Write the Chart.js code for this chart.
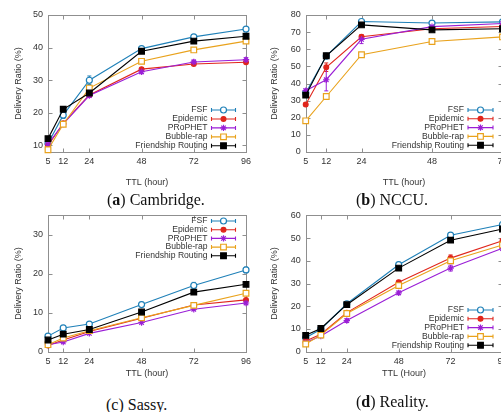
<!DOCTYPE html>
<html>
<head>
<meta charset="utf-8">
<script src="https://cdn.jsdelivr.net/npm/chart.js@4.4.0/dist/chart.umd.min.js"></script>
<style>
html, body { margin: 0; padding: 0; background: #fff; overflow: hidden; }
body { width: 501px; height: 412px; position: relative; }
canvas { position: absolute; }
.cap { position: absolute; font-family: 'Liberation Serif', 'Times New Roman', serif; font-size: 16px; color: #111; white-space: nowrap; line-height: 18px; }
</style>
</head>
<body>
<canvas id="chartA" width="256" height="195" style="left:0px;top:0px"></canvas>
<canvas id="chartB" width="262" height="195" style="left:250px;top:0px"></canvas>
<canvas id="chartC" width="256" height="180" style="left:0px;top:205px"></canvas>
<canvas id="chartD" width="262" height="180" style="left:250px;top:205px"></canvas>
<div class="cap" style="left:107px;top:191px">(<b>a</b>) Cambridge.</div>
<div class="cap" style="left:356px;top:191px">(<b>b</b>) NCCU.</div>
<div class="cap" style="left:106px;top:396px">(c) Sassy.</div>
<div class="cap" style="left:356px;top:393px">(<b>d</b>) Reality.</div>
<script>
// TTL values (hours) and series names shared by all four panels
const ttlHours = [5, 12, 24, 48, 72, 96];
const seriesNames = ['FSF', 'Epidemic', 'PRoPHET', 'Bubble-rap', 'Friendship Routing'];

// (a) Cambridge
const camFSF        = [10.6, 19.3, 30.0, 39.7, 43.3, 45.7];
const camEpidemic   = [10.0, 16.8, 25.5, 33.4, 35.0, 35.5];
const camProphet    = [10.4, 16.6, 25.3, 32.6, 35.6, 36.3];
const camBubble     = [8.7, 16.5, 27.6, 35.8, 39.3, 42.0];
const camFriendship = [12.1, 21.1, 26.1, 38.9, 42.0, 43.5];
const camErrFSF     = [0.5, 1.0, 1.3, 0.6, 0.6, 0.5];
const camErrProphet = [0.5, 0.5, 0.6, 0.6, 0.6, 0.6];
const camTicksY     = [10, 20, 30, 40, 50];

// (b) NCCU (only up to 72 h)
const nccuFSF        = [34.5, 56.0, 76.2, 75.3, 76.0];
const nccuEpidemic   = [27.7, 49.5, 67.3, 72.0, 73.3];
const nccuProphet    = [35.8, 42.2, 65.8, 73.2, 75.0];
const nccuBubble     = [18.2, 32.4, 56.8, 64.5, 67.2];
const nccuFriendship = [33.2, 56.2, 74.2, 71.3, 72.0];
const nccuErrEpidemic = [1.0, 2.5, 1.0, 1.0, 1.0];
const nccuErrProphet  = [1.0, 6.5, 2.5, 1.0, 1.0];
const nccuTicksY     = [0, 10, 20, 30, 40, 50, 60, 70, 80];

// (c) Sassy
const sasFSF        = [4.0, 6.1, 7.1, 12.1, 17.0, 21.0];
const sasEpidemic   = [1.6, 3.0, 5.2, 8.6, 12.0, 13.3];
const sasProphet    = [1.8, 2.5, 4.7, 7.5, 10.9, 12.5];
const sasBubble     = [1.8, 3.5, 5.4, 8.7, 11.9, 15.0];
const sasFriendship = [3.0, 4.5, 5.7, 10.2, 15.3, 17.3];
const sasErrFSF     = [0.3, 0.3, 0.4, 0.6, 0.8, 0.7];
const sasTicksY     = [0, 10, 20, 30];

// (d) Reality
const realFSF        = [6.1, 9.9, 21.1, 38.3, 51.3, 56.0];
const realEpidemic   = [4.7, 7.7, 17.2, 30.6, 41.2, 48.8];
const realProphet    = [4.0, 6.9, 13.7, 25.9, 36.8, 45.5];
const realBubble     = [3.4, 7.3, 16.8, 29.1, 40.0, 47.0];
const realFriendship = [7.2, 10.2, 20.7, 36.8, 49.1, 54.0];
const realErrFSF      = [0.4, 0.5, 0.8, 1.0, 1.0, 1.0];
const realErrEpidemic = [0.4, 0.5, 0.8, 0.8, 1.4, 1.0];
const realErrProphet  = [0.4, 0.5, 0.8, 0.8, 1.3, 1.0];
const realTicksY     = [0, 10, 20, 30, 40, 50, 60];

const xTickValues = [5, 12, 24, 48, 72, 96];

// gnuplot-like line styles
const lineStyles = [
    { color: '#1f80b8', style: 'circle', fill: '#ffffff', radius: 3.0 },
    { color: '#e0261c', style: 'circle', fill: '#e0261c', radius: 2.4 },
    { color: '#9a1ed6', style: 'star',   fill: '#9a1ed6', radius: 3.2 },
    { color: '#e9a21c', style: 'rect',   fill: '#ffffff', radius: 4.0 },
    { color: '#000000', style: 'rect',   fill: '#000000', radius: 4.0 }
];

const textColor = '#333';
const frameColor = '#8f8f8f';

Chart.defaults.font.family = "'Liberation Sans', Arial, sans-serif";
Chart.defaults.font.size = 9;
Chart.defaults.color = textColor;

function buildDatasets(values, errors) {
    return values.map((vals, i) => ({
        label: seriesNames[i],
        data: vals.map((v, j) => ({ x: ttlHours[j], y: v })),
        errors: errors[i] || null,
        borderColor: lineStyles[i].color,
        borderWidth: 1.1,
        pointStyle: lineStyles[i].style,
        pointRadius: lineStyles[i].radius,
        pointHoverRadius: lineStyles[i].radius,
        pointBorderColor: lineStyles[i].color,
        pointBackgroundColor: lineStyles[i].fill,
        pointBorderWidth: 1.2,
        tension: 0,
        clip: false,
        order: values.length - i
    }));
}

// box around the plot with inward ticks, and y error bars
const framePlugin = {
    id: 'frameBox',
    beforeDatasetsDraw(chart) {
        const { ctx, chartArea: a, scales } = chart;
        const l = Math.round(a.left) + 0.5, r = Math.round(a.right) + 0.5;
        const t = Math.round(a.top) + 0.5, b = Math.round(a.bottom) + 0.5;
        ctx.save();
        ctx.strokeStyle = frameColor;
        ctx.lineWidth = 1;
        ctx.strokeRect(l, t, r - l, b - t);
        ctx.beginPath();
        scales.y.ticks.forEach(tk => {
            const py = Math.round(scales.y.getPixelForValue(tk.value)) + 0.5;
            ctx.moveTo(l, py); ctx.lineTo(l + 4, py);
            ctx.moveTo(r, py); ctx.lineTo(r - 4, py);
        });
        scales.x.ticks.forEach(tk => {
            const px = Math.round(scales.x.getPixelForValue(tk.value)) + 0.5;
            ctx.moveTo(px, b); ctx.lineTo(px, b - 4);
            ctx.moveTo(px, t); ctx.lineTo(px, t + 4);
        });
        ctx.stroke();

        // error bars
        chart.data.datasets.forEach((ds, i) => {
            if (!ds.errors) return;
            const meta = chart.getDatasetMeta(i);
            ctx.strokeStyle = ds.borderColor;
            ctx.lineWidth = 1;
            ctx.beginPath();
            meta.data.forEach((pt, j) => {
                const e = ds.errors[j];
                if (!e) return;
                const v = ds.data[j].y;
                const y1 = scales.y.getPixelForValue(v + e);
                const y2 = scales.y.getPixelForValue(v - e);
                ctx.moveTo(pt.x, y1); ctx.lineTo(pt.x, y2);
                ctx.moveTo(pt.x - 2, y1); ctx.lineTo(pt.x + 2, y1);
                ctx.moveTo(pt.x - 2, y2); ctx.lineTo(pt.x + 2, y2);
            });
            ctx.stroke();
        });
        ctx.restore();
    }
};

// gnuplot style key: text on the left, line sample with marker on the right
const keyPlugin = {
    id: 'keyBox',
    afterDraw(chart, args, opts) {
        const { ctx } = chart;
        ctx.save();
        ctx.font = "8.6px 'Liberation Sans', Arial, sans-serif";
        ctx.textAlign = 'right';
        ctx.textBaseline = 'middle';
        chart.data.datasets.forEach((ds, i) => {
            const y = opts.top + i * opts.step;
            ctx.fillStyle = textColor;
            ctx.fillText(ds.label, opts.textRight, y);
            const x0 = opts.textRight + 4, x1 = x0 + opts.lineLen;
            ctx.strokeStyle = ds.borderColor;
            ctx.lineWidth = 1.1;
            ctx.beginPath();
            ctx.moveTo(x0, y); ctx.lineTo(x1, y);
            ctx.moveTo(x0, y - 2); ctx.lineTo(x0, y + 2);
            ctx.moveTo(x1, y - 2); ctx.lineTo(x1, y + 2);
            ctx.stroke();
            ctx.fillStyle = ds.pointBackgroundColor;
            ctx.lineWidth = 1.2;
            Chart.helpers.drawPoint(ctx, {
                pointStyle: ds.pointStyle, radius: ds.pointRadius, borderWidth: 1.2, rotation: 0
            }, (x0 + x1) / 2, y);
        });
        ctx.restore();
    }
};

function makeChart(id, cfg) {
    const xTicks = xTickValues.filter(v => v <= cfg.xMax);
    return new Chart(document.getElementById(id), {
        type: 'line',
        data: { datasets: buildDatasets(cfg.values, cfg.errors) },
        options: {
            responsive: false,
            animation: false,
            devicePixelRatio: 1,
            layout: { padding: { left: 0, top: cfg.top, right: cfg.right, bottom: 0 } },
            plugins: {
                legend: { display: false },
                tooltip: { enabled: false },
                keyBox: cfg.key
            },
            scales: {
                x: {
                    type: 'linear',
                    min: 5,
                    max: cfg.xMax,
                    afterBuildTicks: s => { s.ticks = xTicks.map(v => ({ value: v })); },
                    afterFit: s => { s.height = cfg.xH; },
                    grid: { display: false, drawTicks: false },
                    border: { display: false },
                    ticks: { autoSkip: false, maxRotation: 0, padding: 4.5 },
                    title: { display: true, text: cfg.xTitle, font: { size: 9 }, padding: { top: 0, bottom: cfg.xTitlePad } }
                },
                y: {
                    min: cfg.yMin,
                    max: cfg.yMax,
                    afterBuildTicks: s => { s.ticks = cfg.yTicks.map(v => ({ value: v })); },
                    afterFit: s => { s.width = cfg.yW; },
                    grid: { display: false, drawTicks: false },
                    border: { display: false },
                    ticks: { padding: 5 },
                    title: { display: true, text: 'Delivery Ratio (%)', font: { size: 9 }, padding: { top: cfg.yTitlePad, bottom: 0 } }
                }
            }
        },
        plugins: [framePlugin, keyPlugin]
    });
}

document.addEventListener('DOMContentLoaded', () => {
    makeChart('chartA', {
        values: [camFSF, camEpidemic, camProphet, camBubble, camFriendship],
        errors: [camErrFSF, null, camErrProphet, null, null],
        xMax: 96, yMin: 8, yMax: 50, yTicks: camTicksY,
        top: 15, right: 10, yW: 48, xH: 43, xTitlePad: 6.9, yTitlePad: 13.1,
        xTitle: 'TTL (hour)',
        key: { textRight: 207.5, top: 110, step: 8.95, lineLen: 24 }
    });
    makeChart('chartB', {
        values: [nccuFSF, nccuEpidemic, nccuProphet, nccuBubble, nccuFriendship],
        errors: [null, nccuErrEpidemic, nccuErrProphet, null, null],
        xMax: 72, yMin: 0, yMax: 80, yTicks: nccuTicksY,
        top: 15, right: 8.1, yW: 55.7, xH: 43, xTitlePad: 6.9, yTitlePad: 19.6,
        xTitle: 'TTL (hour)',
        key: { textRight: 214, top: 110, step: 8.8, lineLen: 25 }
    });
    makeChart('chartC', {
        values: [sasFSF, sasEpidemic, sasProphet, sasBubble, sasFriendship],
        errors: [sasErrFSF, null, null, null, null],
        xMax: 96, yMin: 0, yMax: 35, yTicks: sasTicksY,
        top: 10, right: 10, yW: 48, xH: 33.3, xTitlePad: 6.3, yTitlePad: 12.9,
        xTitle: 'TTL (hour)',
        key: { textRight: 207.5, top: 16, step: 8.7, lineLen: 24 }
    });
    makeChart('chartD', {
        values: [realFSF, realEpidemic, realProphet, realBubble, realFriendship],
        errors: [realErrFSF, realErrEpidemic, realErrProphet, null, null],
        xMax: 96, yMin: 0, yMax: 60, yTicks: realTicksY,
        top: 9.3, right: 8.8, yW: 55.7, xH: 33.3, xTitlePad: 6.3, yTitlePad: 19.6,
        xTitle: 'TTL (Hour)',
        key: { textRight: 214, top: 105, step: 8.8, lineLen: 25 }
    });
});
</script>
</body>
</html>
